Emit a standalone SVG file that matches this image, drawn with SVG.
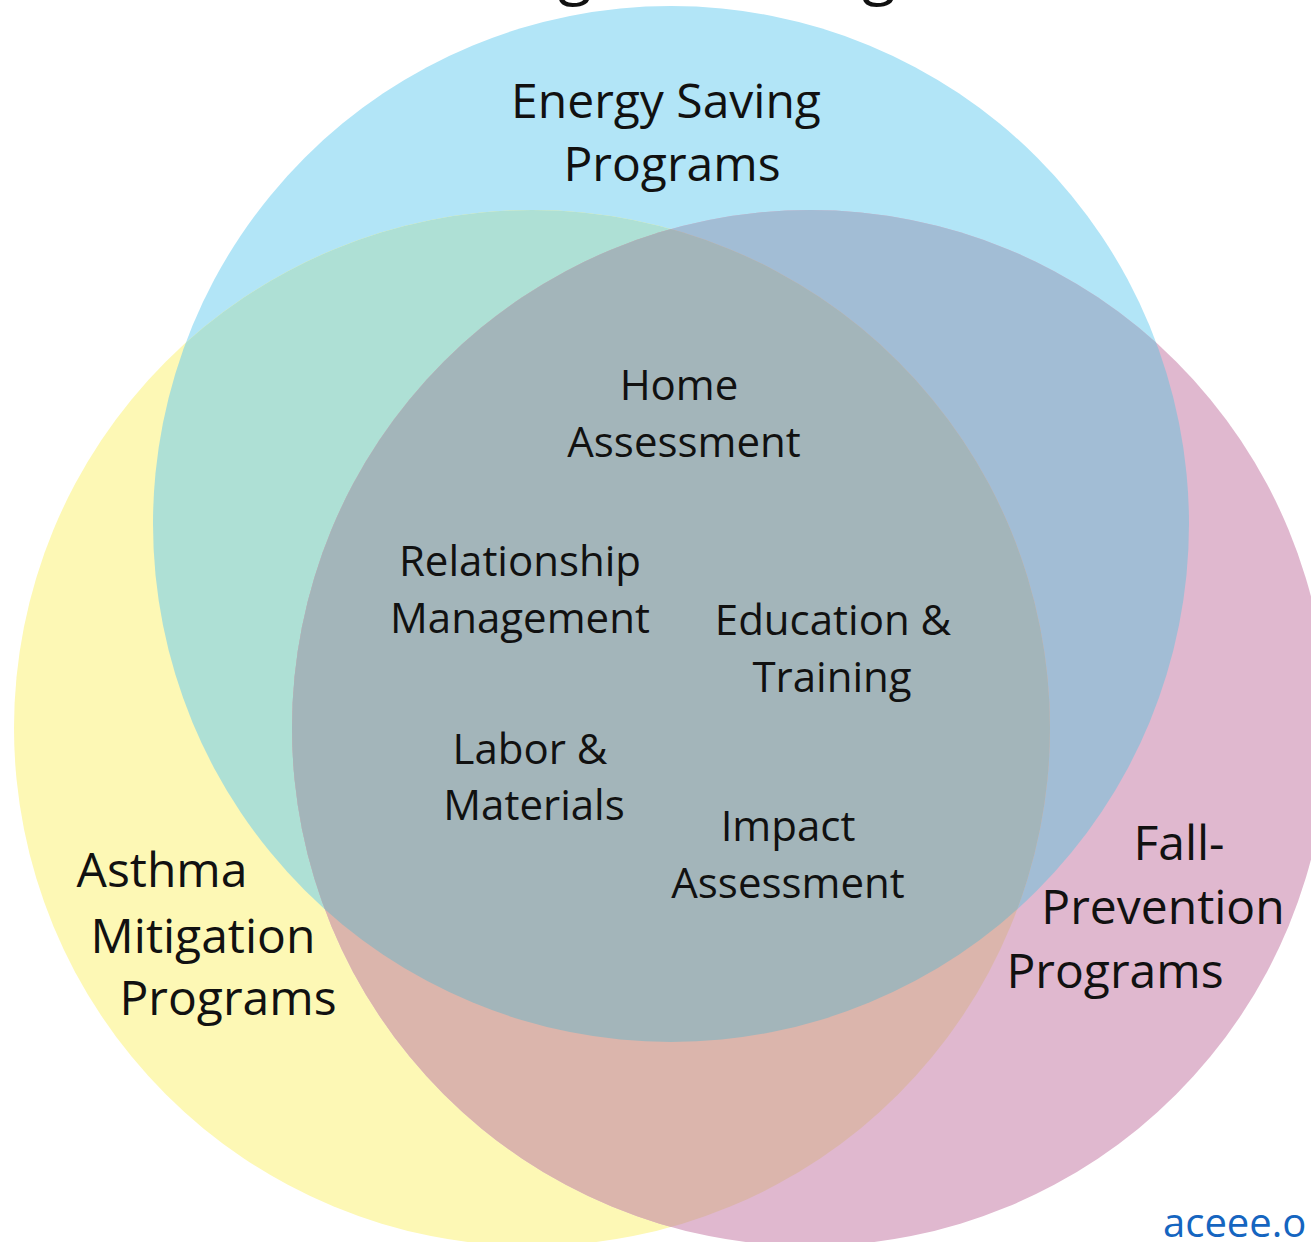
<svg xmlns="http://www.w3.org/2000/svg" width="1311" height="1242" viewBox="0 0 1311 1242">
<style>
.lbl{font-family:"Open Sans","Noto Sans","Liberation Sans",sans-serif;font-size:48px;fill:#111;text-anchor:middle}
.in{font-family:"Open Sans","Noto Sans","Liberation Sans",sans-serif;font-size:42px;fill:#111;text-anchor:middle}
.url{font-family:"Open Sans","Noto Sans","Liberation Sans",sans-serif;font-size:40px;fill:#1565c0}
</style>
<defs>
<clipPath id="cB"><circle cx="671" cy="524" r="518"/></clipPath>
<clipPath id="cY"><circle cx="532" cy="728" r="518"/></clipPath>
<clipPath id="cP"><circle cx="810" cy="728" r="518"/></clipPath>
</defs>
<rect width="1311" height="1242" fill="#ffffff"/>
<g id="title-fragment"><text x="558" y="-8" font-family="Open Sans, sans-serif" font-size="62" fill="#111">g</text><text x="862" y="-8" font-family="Open Sans, sans-serif" font-size="62" fill="#111">g</text></g>
<g id="energy-saving">
<circle cx="671" cy="524" r="518" fill="#b2e5f7"/>
</g>
<g id="asthma-mitigation">
<circle cx="532" cy="728" r="518" fill="#fdf8b5"/>
</g>
<g id="fall-prevention">
<circle cx="810" cy="728" r="518" fill="#e0b8cf"/>
</g>
<g id="overlaps">
<circle cx="532" cy="728" r="518" fill="#aee0d5" clip-path="url(#cB)"/>
<circle cx="810" cy="728" r="518" fill="#a2bdd5" clip-path="url(#cB)"/>
<circle cx="810" cy="728" r="518" fill="#dbb5ac" clip-path="url(#cY)"/>
<g clip-path="url(#cB)"><circle cx="810" cy="728" r="518" fill="#a3b5ba" clip-path="url(#cY)"/></g>
</g>
<g id="labels">
<text class="lbl" x="666" y="118">Energy Saving</text>
<text class="lbl" x="672" y="181">Programs</text>
<text class="lbl" x="162" y="887">Asthma</text>
<text class="lbl" x="203" y="953">Mitigation</text>
<text class="lbl" x="228" y="1015">Programs</text>
<text class="lbl" x="1179" y="860">Fall-</text>
<text class="lbl" x="1163" y="924">Prevention</text>
<text class="lbl" x="1115" y="988">Programs</text>
</g>
<g id="shared">
<text class="in" x="679" y="400">Home</text>
<text class="in" x="684" y="457">Assessment</text>
<text class="in" x="520" y="576">Relationship</text>
<text class="in" x="520" y="633">Management</text>
<text class="in" x="833" y="635">Education &amp;</text>
<text class="in" x="832" y="692">Training</text>
<text class="in" x="530" y="764">Labor &amp;</text>
<text class="in" x="534" y="820">Materials</text>
<text class="in" x="788" y="841">Impact</text>
<text class="in" x="788" y="898">Assessment</text>
</g>
<g id="source"><text class="url" x="1163" y="1237">aceee.o</text></g>
</svg>
